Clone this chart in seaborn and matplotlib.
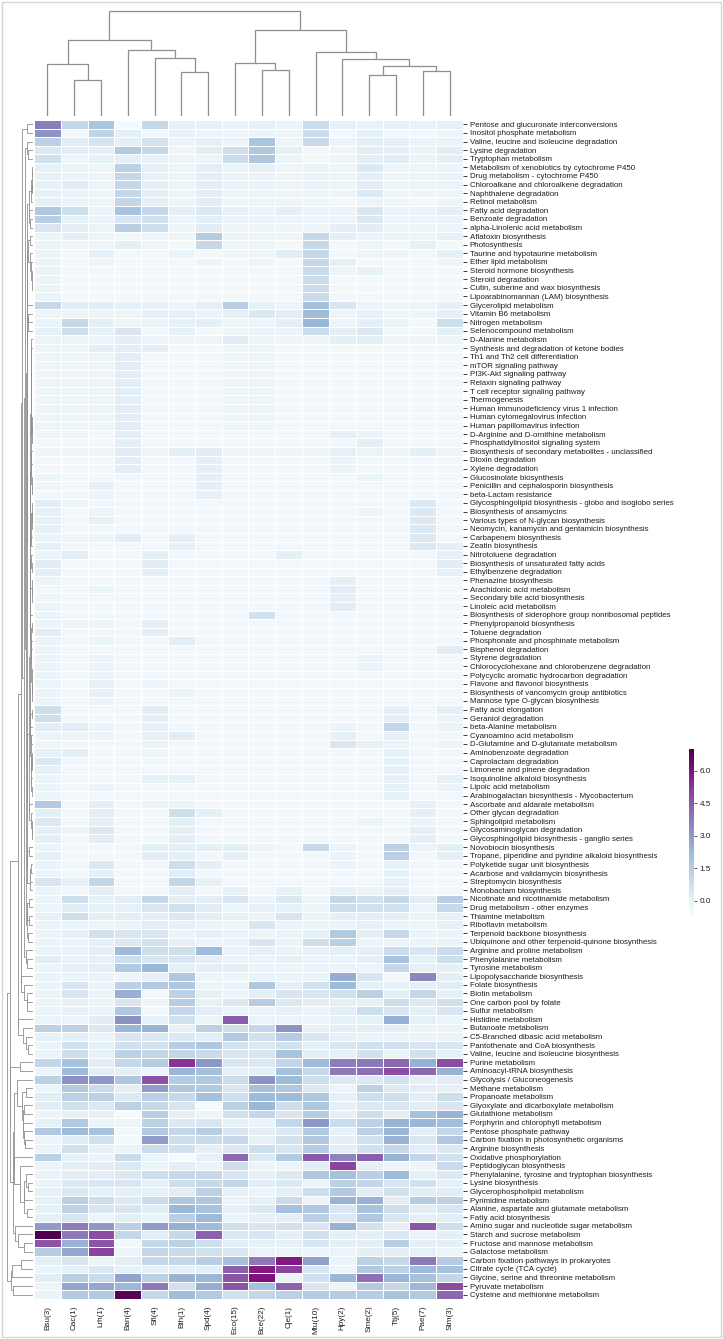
import numpy as np
import pandas as pd
import matplotlib
matplotlib.use("Agg")
import matplotlib.pyplot as plt
import seaborn as sns
from matplotlib.patches import Rectangle

sns.set_style("white")
plt.rcParams["font.family"] = ["Liberation Sans", "DejaVu Sans"]
plt.rcParams["text.color"] = "#1e1e1e"
plt.rcParams["xtick.color"] = "#1e1e1e"
plt.rcParams["ytick.color"] = "#1e1e1e"

# genomes (columns) in dendrogram order
col_labels = ["Bsu(3)", "Cac(1)", "Lrh(1)", "Ban(4)", "Sfl(4)", "Bth(1)", "Spd(4)", "Eco(15)",
              "Bce(22)", "Cje(1)", "Mtu(10)", "Hpy(2)", "Sme(2)", "Ttj(5)", "Pae(7)", "Stm(3)"]

# KEGG pathways (rows) in dendrogram order
row_labels = [
    "Pentose and glucuronate interconversions", "Inositol phosphate metabolism",
    "Valine, leucine and isoleucine degradation", "Lysine degradation", "Tryptophan metabolism",
    "Metabolism of xenobiotics by cytochrome P450", "Drug metabolism - cytochrome P450",
    "Chloroalkane and chloroalkene degradation", "Naphthalene degradation", "Retinol metabolism",
    "Fatty acid degradation", "Benzoate degradation", "alpha-Linolenic acid metabolism",
    "Aflatoxin biosynthesis", "Photosynthesis", "Taurine and hypotaurine metabolism",
    "Ether lipid metabolism", "Steroid hormone biosynthesis", "Steroid degradation",
    "Cutin, suberine and wax biosynthesis", "Lipoarabinomannan (LAM) biosynthesis",
    "Glycerolipid metabolism", "Vitamin B6 metabolism", "Nitrogen metabolism",
    "Selenocompound metabolism", "D-Alanine metabolism", "Synthesis and degradation of ketone bodies",
    "Th1 and Th2 cell differentiation", "mTOR signaling pathway", "PI3K-Akt signaling pathway",
    "Relaxin signaling pathway", "T cell receptor signaling pathway", "Thermogenesis",
    "Human immunodeficiency virus 1 infection", "Human cytomegalovirus infection",
    "Human papillomavirus infection", "D-Arginine and D-ornithine metabolism",
    "Phosphatidylinositol signaling system", "Biosynthesis of secondary metabolites - unclassified",
    "Dioxin degradation", "Xylene degradation", "Glucosinolate biosynthesis",
    "Penicillin and cephalosporin biosynthesis", "beta-Lactam resistance",
    "Glycosphingolipid biosynthesis - globo and isoglobo series", "Biosynthesis of ansamycins",
    "Various types of N-glycan biosynthesis", "Neomycin, kanamycin and gentamicin biosynthesis",
    "Carbapenem biosynthesis", "Zeatin biosynthesis", "Nitrotoluene degradation",
    "Biosynthesis of unsaturated fatty acids", "Ethylbenzene degradation", "Phenazine biosynthesis",
    "Arachidonic acid metabolism", "Secondary bile acid biosynthesis", "Linoleic acid metabolism",
    "Biosynthesis of siderophore group nonribosomal peptides", "Phenylpropanoid biosynthesis",
    "Toluene degradation", "Phosphonate and phosphinate metabolism", "Bisphenol degradation",
    "Styrene degradation", "Chlorocyclohexane and chlorobenzene degradation",
    "Polycyclic aromatic hydrocarbon degradation", "Flavone and flavonol biosynthesis",
    "Biosynthesis of vancomycin group antibiotics", "Mannose type O-glycan biosynthesis",
    "Fatty acid elongation", "Geraniol degradation", "beta-Alanine metabolism",
    "Cyanoamino acid metabolism", "D-Glutamine and D-glutamate metabolism",
    "Aminobenzoate degradation", "Caprolactam degradation", "Limonene and pinene degradation",
    "Isoquinoline alkaloid biosynthesis", "Lipoic acid metabolism",
    "Arabinogalactan biosynthesis - Mycobacterium", "Ascorbate and aldarate metabolism",
    "Other glycan degradation", "Sphingolipid metabolism", "Glycosaminoglycan degradation",
    "Glycosphingolipid biosynthesis - ganglio series", "Novobiocin biosynthesis",
    "Tropane, piperidine and pyridine alkaloid biosynthesis", "Polyketide sugar unit biosynthesis",
    "Acarbose and validamycin biosynthesis", "Streptomycin biosynthesis", "Monobactam biosynthesis",
    "Nicotinate and nicotinamide metabolism", "Drug metabolism - other enzymes",
    "Thiamine metabolism", "Riboflavin metabolism", "Terpenoid backbone biosynthesis",
    "Ubiquinone and other terpenoid-quinone biosynthesis", "Arginine and proline metabolism",
    "Phenylalanine metabolism", "Tyrosine metabolism", "Lipopolysaccharide biosynthesis",
    "Folate biosynthesis", "Biotin metabolism", "One carbon pool by folate", "Sulfur metabolism",
    "Histidine metabolism", "Butanoate metabolism", "C5-Branched dibasic acid metabolism",
    "Pantothenate and CoA biosynthesis", "Valine, leucine and isoleucine biosynthesis",
    "Purine metabolism", "Aminoacyl-tRNA biosynthesis", "Glycolysis / Gluconeogenesis",
    "Methane metabolism", "Propanoate metabolism", "Glyoxylate and dicarboxylate metabolism",
    "Glutathione metabolism", "Porphyrin and chlorophyll metabolism", "Pentose phosphate pathway",
    "Carbon fixation in photosynthetic organisms", "Arginine biosynthesis",
    "Oxidative phosphorylation", "Peptidoglycan biosynthesis",
    "Phenylalanine, tyrosine and tryptophan biosynthesis", "Lysine biosynthesis",
    "Glycerophospholipid metabolism", "Pyrimidine metabolism",
    "Alanine, aspartate and glutamate metabolism", "Fatty acid biosynthesis",
    "Amino sugar and nucleotide sugar metabolism", "Starch and sucrose metabolism",
    "Fructose and mannose metabolism", "Galactose metabolism",
    "Carbon fixation pathways in prokaryotes", "Citrate cycle (TCA cycle)",
    "Glycine, serine and threonine metabolism", "Pyruvate metabolism",
    "Cysteine and methionine metabolism",
]

# values, one list per pathway, columns as col_labels
values_top = [
    [3.7, 1.1, 1.8, -0.6, 1.0, 0.0, 0.0, -0.1, 0.0, -0.2, 0.9, 0.0, -0.1, 0.0, -0.1, 0.0],
    [3.2, -0.4, 1.2, 0.1, -0.4, -0.1, -0.3, -0.3, -0.2, -0.3, 0.9, -0.4, 0.0, -0.4, -0.4, -0.3],
    [1.3, 0.2, 0.6, 0.1, 0.6, -0.2, 0.1, -0.2, 1.8, -0.3, 1.0, -0.2, 0.1, 0.0, -0.2, -0.2],
    [0.4, 0.2, 0.1, 1.6, 1.1, -0.3, 0.2, 0.8, 1.7, 0.1, -0.5, -0.3, 0.2, 0.1, -0.2, 0.2],
    [0.7, -0.3, 0.0, 0.1, 0.0, -0.3, -0.3, 0.9, 1.7, -0.2, -0.5, -0.3, 0.2, 0.2, -0.2, 0.1],
    [0.0, -0.2, -0.3, 1.3, 0.1, -0.3, 0.2, -0.2, 0.0, -0.3, -0.2, -0.3, 0.4, -0.3, -0.3, -0.2],
    [0.0, -0.2, -0.3, 1.1, 0.0, -0.3, 0.2, -0.2, -0.2, -0.3, -0.2, -0.3, 0.2, -0.3, -0.3, -0.2],
    [0.0, 0.2, -0.2, 1.1, 0.1, -0.3, 0.2, -0.2, -0.2, -0.3, -0.2, -0.3, 0.2, -0.3, -0.3, -0.2],
    [0.0, -0.2, -0.3, 1.1, 0.1, -0.3, 0.2, -0.2, -0.2, -0.3, -0.2, -0.3, 0.4, -0.3, -0.3, -0.3],
    [0.0, -0.2, -0.3, 1.1, 0.0, -0.3, 0.2, -0.3, -0.3, -0.3, -0.3, -0.5, -0.2, -0.3, -0.5, -0.3],
    [1.7, 0.8, -0.2, 1.9, 1.1, 0.1, 0.4, 0.0, -0.2, 0.1, -0.2, -0.2, 0.5, -0.2, -0.2, 0.1],
    [1.4, 0.0, -0.2, 0.5, 0.7, -0.3, 0.2, -0.2, -0.2, -0.3, -0.3, -0.3, 0.4, -0.3, -0.3, -0.2],
    [0.5, 0.1, -0.2, 1.4, 0.8, -0.3, 0.2, -0.3, -0.3, -0.3, -0.3, 0.1, 0.2, -0.3, -0.3, -0.2],
    [-0.2, 0.1, -0.3, -0.5, -0.3, -0.3, 1.5, -0.2, -0.3, -0.3, 1.0, 0.1, -0.2, -0.2, -0.3, 0.0],
    [-0.2, -0.3, -0.3, 0.1, -0.3, -0.5, 1.0, -0.3, -0.3, -0.5, 1.0, -0.5, -0.3, -0.5, 0.0, -0.5],
    [-0.2, -0.5, 0.0, -0.5, -0.5, -0.2, -0.5, -0.3, -0.3, 0.2, 1.0, -0.5, -0.3, -0.3, -0.5, 0.0],
    [-0.2, -0.5, -0.3, -0.5, -0.5, -0.5, -0.3, -0.5, -0.3, -0.5, 1.0, 0.1, -0.5, -0.5, -0.5, -0.3],
    [-0.2, -0.5, -0.5, -0.5, -0.5, -0.5, -0.5, -0.5, -0.5, -0.5, 0.9, -0.3, 0.0, -0.5, -0.5, -0.5],
    [-0.2, -0.5, -0.5, -0.5, -0.5, -0.5, -0.5, -0.5, -0.5, -0.5, 0.9, -0.5, -0.5, -0.5, -0.5, -0.5],
    [-0.2, -0.5, -0.5, -0.5, -0.5, -0.5, -0.5, -0.5, -0.5, -0.5, 0.9, -0.5, -0.4, -0.5, -0.5, -0.5],
    [-0.2, -0.5, -0.5, -0.5, -0.5, -0.5, -0.5, -0.5, -0.5, -0.5, 0.9, -0.5, -0.5, -0.5, -0.5, -0.4],
    [1.0, 0.2, 0.2, 0.0, 0.0, -0.3, 0.1, 1.4, 0.0, -0.2, 2.0, 0.5, -0.2, -0.3, -0.3, 0.1],
    [-0.3, -0.3, -0.3, -0.3, 0.0, 0.0, -0.2, 0.1, 0.4, 0.2, 2.2, -0.3, 0.0, -0.3, -0.3, 0.0],
    [-0.2, 1.0, 0.1, -0.3, -0.2, 0.0, 0.1, -0.3, -0.3, 0.1, 2.3, -0.3, 0.1, -0.2, -0.5, 0.8],
    [0.0, 0.8, 0.0, 0.5, -0.5, 0.0, -0.5, -0.3, -0.2, -0.2, 0.9, 0.1, 0.4, -0.5, -0.5, 0.1],
    [-0.2, -0.2, -0.3, 0.1, -0.3, -0.3, -0.3, 0.2, -0.3, -0.3, -0.3, 0.1, 0.1, -0.3, -0.3, -0.2],
    [-0.3, -0.3, 0.1, 0.2, 0.1, -0.5, -0.5, -0.3, -0.3, -0.5, -0.5, -0.5, -0.5, -0.5, -0.5, -0.5],
]

values_sparse = [
    [-0.3, -0.3, -0.3, 0.2, -0.4, -0.4, -0.4, -0.3, -0.3, -0.4, -0.4, -0.4, -0.4, -0.4, -0.4, -0.4],
    [-0.3, -0.3, -0.3, 0.2, -0.4, -0.4, -0.4, -0.3, -0.3, -0.4, -0.4, -0.4, -0.4, -0.4, -0.4, -0.4],
    [-0.3, -0.3, -0.3, 0.2, -0.4, -0.4, -0.4, -0.3, -0.3, -0.4, -0.4, -0.4, -0.4, -0.4, -0.4, -0.4],
    [-0.3, -0.3, -0.3, 0.2, -0.4, -0.4, -0.4, -0.3, -0.3, -0.4, -0.4, -0.4, -0.4, -0.4, -0.4, -0.4],
    [-0.3, -0.3, -0.3, 0.2, -0.4, -0.4, -0.4, -0.3, -0.3, -0.4, -0.4, -0.4, -0.4, -0.4, -0.4, -0.4],
    [-0.3, -0.3, -0.3, 0.2, -0.4, -0.4, -0.4, -0.3, -0.3, -0.4, -0.4, -0.4, -0.4, -0.4, -0.4, -0.4],
    [-0.3, -0.3, -0.3, 0.2, -0.4, -0.4, -0.4, -0.3, -0.3, -0.4, -0.4, -0.4, -0.4, -0.4, -0.4, -0.4],
    [-0.3, -0.3, -0.3, 0.2, -0.4, -0.4, -0.4, -0.3, -0.3, -0.4, -0.4, -0.4, -0.4, -0.4, -0.4, -0.4],
    [-0.3, -0.3, -0.3, 0.2, -0.4, -0.4, -0.4, -0.3, -0.3, -0.4, -0.4, -0.4, -0.4, -0.4, -0.4, -0.4],
    [-0.3, -0.3, -0.4, 0.2, -0.4, -0.4, -0.4, -0.4, -0.4, -0.4, -0.4, 0.0, -0.2, -0.4, -0.4, -0.4],
    [-0.4, -0.4, -0.4, 0.1, -0.4, -0.4, -0.4, -0.4, -0.4, -0.4, -0.4, -0.4, 0.1, -0.4, -0.4, -0.4],
    [-0.3, -0.3, -0.3, 0.2, -0.3, 0.1, 0.2, -0.3, -0.3, -0.3, -0.3, 0.0, -0.2, -0.3, 0.1, -0.3],
    [-0.4, -0.4, -0.4, 0.2, -0.4, -0.4, 0.1, -0.4, -0.4, -0.4, -0.4, -0.2, -0.4, -0.4, -0.4, -0.4],
    [-0.4, -0.4, -0.4, 0.2, -0.4, -0.4, 0.1, -0.4, -0.4, -0.4, -0.4, -0.2, -0.4, -0.4, -0.4, -0.4],
    [-0.2, -0.4, -0.4, -0.4, -0.4, -0.4, 0.1, -0.4, -0.4, -0.4, -0.4, -0.4, -0.2, -0.4, -0.4, -0.4],
    [-0.3, -0.4, 0.0, -0.4, -0.4, -0.4, 0.1, -0.4, -0.4, -0.4, -0.4, -0.4, -0.4, -0.4, -0.4, -0.4],
    [-0.4, -0.4, -0.2, -0.4, -0.4, -0.4, 0.0, -0.4, -0.4, -0.4, -0.4, -0.4, -0.4, -0.4, -0.4, -0.4],
    [0.2, -0.3, -0.4, -0.4, -0.4, -0.4, -0.4, -0.4, -0.4, -0.4, -0.4, -0.4, -0.4, -0.4, 0.4, -0.4],
    [0.0, -0.4, -0.2, -0.4, -0.4, -0.4, -0.4, -0.4, -0.4, -0.4, -0.4, -0.4, -0.3, -0.4, 0.4, -0.4],
    [0.0, -0.4, 0.0, -0.4, -0.4, -0.4, -0.4, -0.4, -0.4, -0.4, -0.4, -0.4, -0.4, -0.4, 0.4, -0.4],
    [0.0, -0.4, -0.4, -0.4, -0.4, -0.4, -0.4, -0.4, -0.4, -0.4, -0.4, -0.4, -0.4, -0.4, 0.4, -0.4],
    [-0.2, -0.3, -0.2, 0.2, -0.4, 0.1, -0.4, -0.4, -0.4, -0.4, -0.4, -0.4, -0.4, -0.4, 0.4, -0.4],
    [0.0, -0.4, -0.4, -0.4, -0.4, 0.0, -0.4, -0.4, -0.4, -0.4, -0.4, -0.4, -0.4, -0.4, 0.4, 0.1],
    [-0.2, 0.2, -0.4, -0.4, 0.1, -0.4, -0.4, -0.4, -0.4, 0.1, -0.4, -0.4, -0.4, -0.4, -0.4, 0.0],
    [0.2, -0.4, -0.4, -0.4, 0.2, -0.4, -0.4, -0.4, -0.4, -0.4, -0.4, -0.4, -0.4, -0.4, -0.4, 0.2],
    [0.1, -0.4, -0.4, -0.4, 0.1, -0.4, -0.4, -0.4, -0.4, -0.4, -0.4, -0.4, -0.4, -0.4, -0.4, 0.0],
    [-0.2, -0.4, -0.4, -0.4, -0.4, -0.4, -0.4, -0.4, -0.4, -0.4, -0.4, 0.1, -0.4, -0.4, -0.4, -0.4],
    [-0.4, -0.4, -0.2, -0.4, -0.4, -0.4, -0.4, -0.4, -0.4, -0.4, -0.4, 0.2, -0.4, -0.4, -0.4, -0.4],
    [-0.3, -0.4, -0.4, -0.4, -0.4, -0.4, -0.4, -0.4, -0.4, -0.4, -0.4, 0.1, -0.4, -0.4, -0.4, -0.4],
    [-0.2, -0.4, -0.4, -0.4, -0.4, -0.4, -0.4, -0.4, -0.4, -0.4, -0.4, 0.2, -0.4, -0.4, -0.4, -0.4],
    [-0.2, -0.4, -0.4, -0.4, -0.4, -0.4, -0.4, -0.4, 0.7, -0.4, -0.4, -0.4, -0.4, -0.4, -0.4, -0.4],
    [-0.2, -0.3, -0.2, -0.4, 0.1, -0.4, -0.4, -0.4, -0.4, -0.4, -0.4, -0.4, -0.4, -0.4, -0.4, -0.4],
    [0.2, -0.4, -0.4, -0.4, 0.1, -0.4, -0.4, -0.4, -0.4, -0.4, -0.4, -0.4, -0.4, -0.4, -0.4, -0.4],
    [-0.2, -0.4, -0.2, -0.4, -0.4, 0.2, -0.4, -0.4, -0.4, -0.4, -0.4, -0.4, -0.4, -0.4, -0.4, -0.4],
    [-0.2, -0.4, -0.4, -0.4, -0.4, -0.4, -0.4, -0.4, -0.4, -0.4, -0.4, -0.4, -0.4, -0.4, -0.4, 0.2],
    [-0.2, -0.4, -0.2, -0.4, -0.4, -0.4, -0.4, -0.4, -0.4, -0.4, -0.4, -0.4, -0.2, -0.4, -0.4, -0.4],
    [-0.2, -0.4, -0.2, -0.4, -0.4, -0.4, -0.4, -0.4, -0.4, -0.4, -0.4, -0.4, -0.2, -0.4, -0.4, -0.4],
    [-0.2, -0.4, -0.2, -0.4, -0.4, -0.4, -0.4, -0.4, -0.4, -0.4, -0.4, -0.4, -0.4, -0.4, -0.4, -0.4],
    [-0.2, -0.4, 0.0, -0.4, -0.2, -0.4, -0.4, -0.4, -0.4, -0.4, -0.4, -0.4, -0.4, -0.4, -0.4, -0.4],
    [-0.2, -0.4, 0.0, -0.4, -0.4, -0.2, -0.4, -0.4, -0.4, -0.4, -0.4, -0.4, -0.4, -0.4, -0.4, -0.4],
    [-0.2, -0.4, -0.2, -0.4, -0.4, -0.4, -0.4, -0.4, -0.4, -0.4, -0.4, -0.4, -0.4, -0.4, -0.4, -0.4],
]

values_mid = [
    [0.8, -0.4, -0.4, -0.4, 0.2, -0.4, -0.4, -0.4, -0.4, -0.4, -0.4, -0.4, -0.4, 0.1, -0.4, 0.1],
    [0.8, -0.4, -0.4, -0.4, 0.1, -0.4, -0.4, -0.4, -0.4, -0.4, -0.4, -0.4, -0.4, 0.1, -0.4, -0.2],
    [0.2, 0.2, -0.2, -0.4, 0.0, -0.4, -0.4, -0.4, -0.4, -0.4, -0.4, -0.2, -0.4, 1.1, -0.4, -0.2],
    [-0.2, -0.3, -0.2, -0.4, 0.0, 0.2, -0.4, -0.4, -0.4, -0.4, -0.4, 0.0, -0.4, 0.0, -0.4, -0.4],
    [-0.3, -0.4, -0.4, -0.4, -0.2, -0.4, -0.4, -0.4, -0.4, -0.4, -0.4, 0.5, 0.0, -0.2, -0.4, -0.2],
    [0.0, 0.1, -0.4, -0.4, -0.3, -0.4, -0.4, -0.4, -0.4, -0.4, -0.4, -0.4, -0.4, 0.0, -0.4, -0.4],
    [0.4, -0.4, -0.4, -0.4, -0.4, -0.4, -0.4, -0.4, -0.4, -0.4, -0.4, -0.4, -0.4, 0.0, -0.4, -0.4],
    [0.0, -0.4, -0.4, -0.4, -0.4, -0.4, -0.4, -0.4, -0.4, -0.4, -0.4, -0.4, -0.4, 0.0, -0.4, -0.4],
    [-0.2, -0.4, -0.4, -0.4, 0.0, 0.0, -0.4, -0.4, -0.4, -0.4, -0.4, -0.4, -0.4, 0.0, -0.4, 0.0],
    [-0.2, -0.4, -0.2, -0.4, -0.4, -0.4, -0.4, -0.4, -0.4, -0.4, -0.4, -0.4, -0.4, 0.0, -0.4, -0.2],
    [-0.3, -0.4, -0.4, -0.4, -0.4, -0.4, -0.4, -0.4, -0.4, -0.4, -0.4, -0.4, -0.4, 0.0, -0.4, -0.4],
    [1.6, -0.4, 0.1, -0.4, -0.2, -0.2, -0.4, -0.4, -0.4, -0.4, -0.4, -0.4, -0.4, -0.4, 0.0, -0.4],
    [0.1, -0.4, 0.2, -0.4, -0.4, 0.8, 0.1, -0.4, -0.4, -0.4, -0.4, -0.4, -0.4, -0.4, 0.1, -0.4],
    [0.4, -0.4, 0.1, -0.4, -0.4, 0.1, -0.4, -0.4, -0.4, -0.4, -0.4, -0.4, -0.2, -0.4, -0.2, -0.4],
    [0.1, -0.2, 0.4, -0.4, -0.4, 0.1, -0.4, -0.4, -0.4, -0.4, -0.4, -0.4, -0.4, -0.4, 0.1, -0.4],
    [0.1, -0.4, 0.2, -0.4, -0.4, 0.1, -0.4, -0.4, -0.4, -0.4, -0.4, -0.4, -0.4, -0.4, 0.1, -0.4],
    [-0.2, -0.4, -0.4, -0.4, 0.1, 0.1, 0.1, 0.1, -0.2, -0.4, 1.0, -0.2, -0.4, 1.3, -0.2, 0.1],
    [0.0, -0.4, -0.4, -0.4, 0.2, 0.1, -0.4, 0.1, -0.4, -0.4, -0.4, -0.2, -0.4, 1.4, -0.4, 0.1],
    [-0.2, -0.4, 0.4, -0.4, -0.4, 0.8, 0.1, -0.4, -0.4, -0.4, -0.4, -0.2, -0.4, 0.0, -0.4, -0.4],
    [-0.2, -0.4, 0.1, -0.4, -0.4, 0.2, -0.4, -0.4, -0.4, -0.4, -0.4, -0.4, -0.4, 0.0, -0.4, -0.4],
    [0.5, 0.0, 1.1, -0.4, -0.4, 1.1, 0.0, -0.4, -0.4, -0.4, -0.4, -0.4, -0.4, 0.0, -0.4, -0.4],
    [-0.2, -0.4, 0.2, -0.4, -0.4, 0.2, -0.4, 0.0, -0.4, 0.0, -0.4, 0.0, -0.2, 0.1, -0.4, -0.4],
    [-0.2, 0.8, 0.0, 0.2, 1.1, 0.2, 0.2, 0.5, -0.2, 0.4, -0.3, 1.0, 0.7, 1.0, 0.2, 1.4],
    [-0.2, 0.2, 0.0, 0.0, 0.5, 0.7, 0.2, -0.2, 0.0, 0.0, -0.3, 0.8, 0.7, 0.7, -0.2, 1.0],
    [0.0, 0.8, 0.1, 0.2, 0.1, 0.4, 0.1, 0.0, -0.2, 0.5, -0.2, 0.1, 0.2, 0.1, -0.2, 0.0],
    [-0.2, -0.2, -0.3, -0.2, 0.2, 0.0, -0.2, -0.3, 0.5, -0.2, -0.2, -0.2, 0.0, -0.2, -0.3, 0.0],
    [-0.2, 0.1, 0.7, 0.5, 0.5, -0.2, 0.1, -0.2, -0.2, -0.2, 0.1, 1.6, 0.1, 1.0, -0.2, -0.2],
    [-0.2, -0.2, 0.0, 0.4, 0.7, 0.0, -0.2, -0.2, 0.5, -0.2, 0.8, 1.4, -0.2, -0.2, -0.2, -0.2],
    [-0.2, -0.2, 0.1, 2.2, 0.8, 0.8, 2.2, -0.2, 0.0, -0.2, 0.0, 0.1, 0.1, 0.9, 0.5, 0.9],
    [0.2, -0.2, 0.0, 0.8, 0.5, 0.5, 0.1, -0.2, -0.2, 0.0, -0.2, -0.2, 0.1, 1.9, 0.0, 0.8],
    [-0.2, 0.0, 0.1, 1.6, 2.3, 0.1, 0.1, 0.1, -0.2, -0.2, -0.2, -0.2, -0.2, 1.0, 0.0, 0.1],
    [-0.2, -0.2, -0.2, -0.3, 0.1, 1.7, -0.3, -0.3, -0.2, -0.2, -0.2, 2.6, 0.5, -0.5, 3.5, 0.1],
    [-0.2, 0.5, -0.2, 1.3, 1.6, 1.7, -0.2, -0.2, 1.7, 0.1, 0.7, 2.2, 0.1, 0.0, 0.1, 0.2],
    [-0.2, 0.5, -0.2, 2.5, -0.5, 1.3, 0.0, -0.2, 0.1, 0.5, 0.5, 0.7, 1.3, 0.1, 1.1, 0.0],
    [-0.2, 0.0, -0.2, 0.5, -0.2, 1.5, 0.0, 0.4, 1.5, 0.4, 0.2, 0.1, 0.0, 0.8, 0.4, 0.7],
    [-0.2, 0.0, -0.2, 1.7, -0.5, 1.1, 0.2, -0.2, -0.2, 0.0, -0.2, 0.2, 0.8, 0.5, 0.1, 0.5],
    [-0.2, -0.2, 0.2, 3.3, 0.0, 0.7, -0.3, 4.4, -0.2, -0.2, -0.2, 0.0, 0.0, 2.5, 0.0, -0.2],
    [1.3, 1.3, 0.4, 2.3, 2.4, 0.0, 1.3, 0.8, 1.1, 3.2, 0.0, 0.1, 0.2, 0.1, -0.2, -0.2],
    [0.0, 0.1, -0.2, 0.5, 0.4, 0.4, 0.2, 1.6, 0.7, 1.5, 0.5, 0.0, -0.2, -0.2, -0.2, -0.2],
    [-0.2, 0.7, 0.1, 0.7, 0.7, 1.5, 1.7, 0.7, 0.4, 0.7, 0.1, 0.5, 0.7, 0.7, 0.5, 0.5],
    [-0.2, 0.8, 0.0, 1.3, 1.1, 1.1, 0.9, 0.5, 0.5, 1.9, 0.1, 0.0, 0.7, -0.2, 0.7, 0.0],
]

values_core = [
    [1.1, 1.9, 0.2, 1.1, 1.5, 5.3, 3.1, 0.5, 0.4, 1.1, 2.2, 3.7, 3.8, 4.2, 2.5, 4.8],
    [-0.2, 2.2, 0.2, 0.1, -0.2, 2.3, 2.0, 0.0, 0.1, 2.0, 1.1, 3.8, 4.0, 4.8, 4.2, 2.4],
    [1.3, 3.3, 3.1, 1.7, 4.7, 1.5, 1.6, 0.9, 3.2, 2.2, 0.8, 0.4, 0.4, 0.7, 0.1, 0.2],
    [-0.2, 1.6, 0.9, 0.1, 3.0, 1.7, 1.6, 0.5, 2.0, 1.7, 0.4, -0.2, 1.3, 0.4, 0.2, 0.0],
    [0.2, 1.3, 1.3, 0.4, 1.4, 1.0, 2.0, 0.8, 2.2, 2.2, 1.7, 0.0, 0.8, 0.8, 0.2, 0.8],
    [0.2, 0.7, 0.4, 1.3, 1.0, 0.5, -0.6, 1.3, 2.3, 0.8, 1.7, 0.0, 0.4, 0.5, 0.2, 0.5],
    [-0.2, 0.0, 0.0, -0.6, 1.4, 0.1, -0.2, 0.7, 1.1, 0.5, 1.5, 0.0, 0.8, 0.2, 2.0, 2.4],
    [0.0, 1.6, -0.2, -0.3, 1.3, 0.4, 0.5, 0.0, -0.2, 1.1, 3.1, 0.9, 1.3, 2.4, 2.3, 2.1],
    [1.6, 2.2, 1.9, -0.5, 1.6, 1.1, 1.4, 0.5, 0.2, 0.4, 1.6, 0.0, 1.3, 2.3, 0.1, 1.1],
    [-0.2, 0.2, 0.7, -0.5, 3.0, 0.8, 0.9, 1.0, 0.0, 0.7, 1.7, 0.1, 0.7, 2.4, 0.5, 1.7],
    [-0.2, 0.7, 0.0, -0.2, 0.9, 0.7, 0.1, 0.4, 0.8, 0.5, 1.5, 0.2, 0.7, 1.0, 0.2, 0.4],
    [1.3, 0.0, -0.2, 0.9, -0.2, -0.6, 0.0, 4.2, 0.4, 1.6, 4.5, 3.5, 4.4, 2.4, 1.1, 0.7],
    [-0.2, 0.1, 0.2, 0.4, -0.2, 0.1, -0.2, 0.8, -0.2, -0.2, 0.2, 5.0, 0.0, -0.3, -0.3, 0.9],
    [-0.2, 0.2, 0.2, 0.4, 0.8, 1.0, 1.0, 0.5, 0.0, 0.4, 1.7, 2.0, 1.4, 2.2, 0.1, 0.4],
    [-0.2, 0.4, 0.5, 0.5, 0.0, 0.8, 1.0, 1.1, 0.2, 0.4, -0.3, 1.3, 1.1, 0.5, 0.7, 0.0],
    [0.0, 0.4, 0.0, 0.1, 0.0, 0.2, 1.3, 0.0, -0.2, 0.1, 0.8, 1.6, 0.2, 0.7, 0.2, 0.2],
    [0.0, 1.4, 0.8, 0.4, 0.9, 1.7, 1.7, -0.2, 0.0, 0.9, -0.3, 2.4, 2.4, 0.2, 1.5, 1.3],
    [0.0, 1.3, 0.5, 0.5, 0.2, 2.3, 1.9, 0.0, 0.4, 2.0, 1.7, 0.5, 1.9, 0.8, 0.2, 0.5],
    [0.0, 0.5, -0.3, 0.1, -0.2, 1.4, 2.2, -0.2, 0.0, 0.1, 1.4, 0.4, 1.7, 0.5, 0.1, 0.2],
    [3.0, 3.7, 3.1, 1.4, 3.0, 2.5, 2.2, 0.8, 0.5, 0.7, 0.5, 2.5, 0.7, 0.0, 4.6, 0.8],
    [7.0, 3.8, 4.8, 1.1, 0.2, 1.0, 4.3, 0.4, 0.5, 0.1, 0.7, 0.1, 0.1, 0.4, -0.2, 0.1],
    [4.6, 2.4, 4.6, -0.5, 1.0, 1.3, 0.8, 0.2, 0.0, 0.0, 0.5, 0.1, 0.1, 1.4, 0.1, 0.1],
    [1.5, 2.7, 5.0, -0.2, 1.1, 0.9, 0.7, 0.5, -0.2, -0.2, -0.2, -0.2, 0.1, 0.1, 0.0, -0.2],
    [0.1, 0.5, -0.2, 0.2, 1.1, 1.1, 1.4, 2.0, 3.8, 5.8, 2.9, -0.2, 1.3, 1.0, 3.8, 1.5],
    [-0.2, 0.0, 0.4, 0.0, 0.1, 0.1, 0.1, 4.4, 5.8, 5.0, 0.5, -0.3, 1.6, 1.3, 2.2, 2.0],
    [0.2, 1.4, 0.9, 2.8, 1.3, 2.4, 2.3, 4.6, 6.0, -0.2, 0.7, 2.3, 4.0, 2.3, 2.0, 1.1],
    [-0.2, 2.7, 2.7, 2.3, 3.8, 0.7, 2.6, 4.6, 2.0, 4.3, 0.5, -0.3, 1.6, 1.0, 2.3, 4.8],
    [-0.2, 1.6, 1.6, 6.8, 1.0, 2.1, 1.6, 0.7, 1.1, 1.3, 1.5, 1.5, 1.5, 1.9, 1.6, 4.2],
]

# column tree: (left, right, height), new ids from 16 up
col_merges = [
    (1, 2, 3.48), (0, 16, 4.94), (5, 6, 4.19), (4, 18, 5.58), (3, 19, 6.33),
    (17, 20, 7.30), (8, 9, 4.38), (7, 22, 5.03), (12, 13, 3.96), (14, 15, 4.28),
    (24, 25, 4.80), (11, 26, 5.42), (10, 27, 6.07), (23, 28, 8.21), (21, 29, 10.0),
]

values = np.array(values_top + values_sparse + values_mid + values_core)
df = pd.DataFrame(values, index=row_labels, columns=col_labels)


def adjacent_linkage(mat):
    # average linkage, but only neighbouring clusters may merge, so the row order stays as is
    dist = np.sqrt(((mat[:, None, :] - mat[None, :, :]) ** 2).sum(-1))
    n = len(mat)
    groups = [[i] for i in range(n)]
    ids = list(range(n))
    hs = [0.0] * n
    merges = []
    nxt = n
    while len(groups) > 1:
        gaps = [dist[np.ix_(groups[k], groups[k + 1])].mean() for k in range(len(groups) - 1)]
        k = int(np.argmin(gaps))
        h = max(gaps[k], hs[k], hs[k + 1])
        merges.append((ids[k], ids[k + 1], h))
        groups[k:k + 2] = [groups[k] + groups[k + 1]]
        ids[k:k + 2] = [nxt]
        hs[k:k + 2] = [h]
        nxt += 1
    return merges


def dendro_lines(merges, n):
    pos = {i: i + 0.5 for i in range(n)}
    hgt = {i: 0.0 for i in range(n)}
    lines = []
    for k, (a, b, h) in enumerate(merges):
        lines.append(([pos[a], pos[a], pos[b], pos[b]], [hgt[a], h, h, hgt[b]]))
        pos[n + k] = (pos[a] + pos[b]) / 2
        hgt[n + k] = h
    return lines


W, H = 723, 1339
fig = plt.figure(figsize=(W / 100, H / 100), dpi=100)


def px_axes(x0, y0, x1, y1):
    return fig.add_axes([x0 / W, 1 - y1 / H, (x1 - x0) / W, (y1 - y0) / H])


ax_heat = px_axes(34, 120, 463, 1299)
ax_cbar = px_axes(689, 749, 694, 916)
ax_col = px_axes(34, 6, 463, 116)
ax_row = px_axes(6, 120, 33, 1299)

sns.heatmap(df, ax=ax_heat, cmap="BuPu", vmin=-0.7, vmax=7.0,
            linewidths=0.6, linecolor="white",
            xticklabels=True, yticklabels=True,
            cbar_ax=ax_cbar, cbar_kws={"ticks": [0, 1.5, 3, 4.5, 6]})

ax_heat.yaxis.tick_right()
ax_heat.set_yticklabels(row_labels, rotation=0, fontsize=5.7)
ax_heat.set_xticklabels(col_labels, rotation=90, fontsize=5.9)
ax_heat.tick_params(axis="both", length=3.2, width=0.6, pad=1.5)
ax_heat.set_xlabel("")
ax_heat.set_ylabel("")

cbar = ax_heat.collections[0].colorbar
cbar.outline.set_visible(False)
cbar.ax.tick_params(labelsize=5.9, length=2.5, width=0.5, pad=1.5)
cbar.ax.yaxis.set_major_formatter("{x:.1f}")

# column dendrogram
for xs, ys in dendro_lines(col_merges, len(col_labels)):
    ax_col.plot(xs, ys, color="#8f8f8f", lw=0.9)
top_h = max(m[2] for m in col_merges)
ax_col.set_xlim(0, len(col_labels))
ax_col.set_ylim(0, top_h * 1.05)
ax_col.axis("off")

# row dendrogram
row_merges = adjacent_linkage(values)
for ys, xs in dendro_lines(row_merges, len(row_labels)):
    ax_row.plot(xs, ys, color="#8f8f8f", lw=0.6)
row_h = max(m[2] for m in row_merges)
ax_row.set_xlim(row_h * 1.05, 0)
ax_row.set_ylim(len(row_labels), 0)
ax_row.axis("off")

fig.patches.append(Rectangle((2 / W, 2 / H), 1 - 4 / W, 1 - 4 / H, transform=fig.transFigure,
                             fill=False, edgecolor="#d6d6d6", lw=1))

fig.savefig("out.png", dpi=100)
